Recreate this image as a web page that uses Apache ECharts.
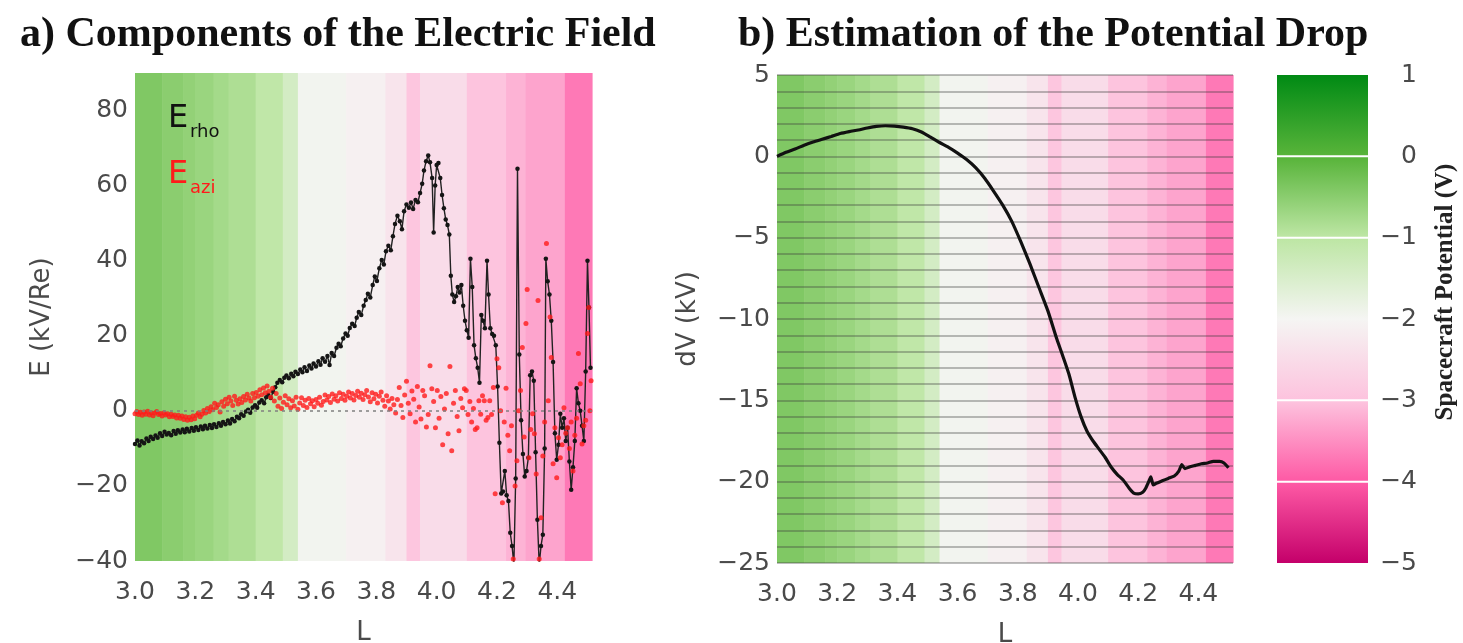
<!DOCTYPE html>
<html>
<head>
<meta charset="utf-8">
<script src="https://cdn.jsdelivr.net/npm/echarts@6/dist/echarts.min.js"></script>
<style>
  html, body { margin: 0; padding: 0; background: #ffffff; }
  #chart { width: 1463px; height: 643px; }
</style>
</head>
<body>
<div id="chart"></div>
<script>
// ---- tick labels ----
const X_TICKS = [3.0, 3.2, 3.4, 3.6, 3.8, 4.0, 4.2, 4.4];
const E_TICKS = [-40, -20, 0, 20, 40, 60, 80];
const DV_TICKS = [-25, -20, -15, -10, -5, 0, 5];
const CBAR_TICKS = [-5, -4, -3, -2, -1, 0, 1];

// ---- colour scale for spacecraft potential (one colour per integer volt, -5 .. 1) ----
const CMAP_COLORS = ['#c4006a', '#fe5aa5', '#fdc3de', '#f5f5f3', '#bde6a4', '#58b43a', '#008a14'];
// colour bar segments [top, bottom] in volts
const CBAR_SEGMENTS = [[1, 0], [0, -1], [-1, -3], [-3, -4], [-4, -5]];

// ---- spacecraft potential along the pass (background bands) ----
const BAND_EDGES = [3.000, 3.090, 3.160, 3.200, 3.260, 3.310, 3.400, 3.490, 3.540, 3.700,
                    3.830, 3.900, 3.945, 4.100, 4.230, 4.295, 4.425, 4.515];
const BAND_POTENTIAL = [-0.40, -0.50, -0.58, -0.65, -0.75, -0.85, -1.05, -1.40, -1.95,
                        -2.10, -2.35, -2.95, -2.50, -2.98, -3.15, -3.30, -3.70];

// ---- radial electric field component [L, kV/Re] ----
const E_RHO = [
  [3.000,-8.8],[3.008,-7.9],[3.015,-9.2],[3.022,-8.1],[3.030,-8.6],[3.038,-7.4],[3.045,-8.0],
  [3.052,-6.9],[3.060,-7.5],[3.068,-6.6],[3.075,-7.2],[3.083,-6.0],[3.090,-6.7],[3.098,-5.6],
  [3.105,-6.3],[3.112,-5.9],[3.120,-6.5],[3.128,-5.4],[3.135,-6.1],[3.142,-5.2],[3.150,-5.8],
  [3.158,-5.0],[3.165,-5.7],[3.172,-4.8],[3.180,-5.5],[3.188,-4.6],[3.195,-5.3],[3.202,-4.4],
  [3.210,-5.1],[3.218,-4.2],[3.225,-4.9],[3.232,-4.0],[3.240,-4.7],[3.248,-3.8],[3.255,-4.6],
  [3.262,-3.6],[3.270,-4.3],[3.278,-3.3],[3.285,-4.0],[3.292,-3.0],[3.300,-3.6],[3.308,-2.6],
  [3.315,-3.4],[3.322,-2.2],[3.330,-2.8],[3.338,-1.6],[3.345,-2.0],[3.352,-0.9],[3.360,-1.3],
  [3.368,-0.2],[3.375,0.3],[3.382,-0.5],[3.390,0.9],[3.398,1.5],[3.405,0.8],[3.412,2.2],
  [3.420,2.8],[3.428,2.0],[3.435,3.6],[3.442,4.2],[3.450,3.4],[3.458,5.1],[3.465,6.3],
  [3.472,7.5],[3.480,8.2],[3.488,7.6],[3.495,8.8],[3.502,9.4],[3.510,8.7],[3.518,9.9],
  [3.525,9.2],[3.532,10.4],[3.540,9.8],[3.548,11.0],[3.555,10.3],[3.562,11.6],[3.570,10.6],
  [3.578,12.1],[3.585,11.3],[3.592,12.6],[3.600,11.8],[3.608,13.2],[3.615,12.3],[3.622,14.0],
  [3.630,13.1],[3.638,14.6],[3.645,12.2],[3.652,15.4],[3.660,14.6],[3.668,16.8],[3.675,17.9],
  [3.682,17.2],[3.690,19.3],[3.698,20.6],[3.705,20.0],[3.712,22.1],[3.720,23.2],[3.728,22.6],
  [3.735,24.8],[3.742,26.3],[3.750,25.5],[3.758,28.0],[3.765,29.5],[3.772,31.2],[3.780,30.2],
  [3.788,33.5],[3.795,35.8],[3.802,34.6],[3.810,38.0],[3.818,40.2],[3.825,39.0],[3.832,42.5],
  [3.840,44.0],[3.848,42.8],[3.855,46.5],[3.862,49.8],[3.870,52.0],[3.878,50.5],[3.885,48.4],
  [3.892,53.2],[3.900,55.0],[3.908,54.1],[3.915,55.5],[3.922,53.8],[3.930,56.2],[3.938,55.6],
  [3.945,58.0],[3.952,60.5],[3.958,64.0],[3.965,66.5],[3.972,68.0],[3.978,66.2],[3.985,62.0],
  [3.990,47.5],[3.995,60.0],[4.000,65.5],[4.006,66.0],[4.012,62.0],[4.018,57.5],[4.024,54.0],
  [4.030,51.0],[4.036,49.5],[4.042,47.0],[4.047,36.0],[4.052,31.0],[4.058,29.0],[4.064,30.5],
  [4.070,33.0],[4.076,31.5],[4.082,33.5],[4.088,28.0],[4.094,24.0],[4.100,21.5],[4.106,19.5],
  [4.112,40.5],[4.118,33.0],[4.124,17.5],[4.130,14.0],[4.136,11.5],[4.142,7.5],[4.148,25.5],
  [4.154,24.0],[4.160,22.0],[4.167,40.0],[4.172,31.0],[4.178,22.0],[4.184,20.5],[4.190,20.0],
  [4.196,17.5],[4.202,6.5],[4.208,-8.5],[4.214,-22.0],[4.220,-21.5],[4.226,-16.0],[4.232,-22.5],
  [4.238,-24.0],[4.244,-32.5],[4.250,-36.0],[4.256,-41.0],[4.262,-18.0],[4.268,64.5],[4.274,15.0],
  [4.280,-2.5],[4.286,-11.5],[4.292,-17.5],[4.298,-16.0],[4.304,-12.5],[4.310,9.5],[4.316,10.5],
  [4.322,8.0],[4.328,-11.0],[4.334,-29.0],[4.340,-41.0],[4.346,-36.0],[4.352,-33.0],[4.358,-10.0],
  [4.362,40.5],[4.368,34.5],[4.374,31.0],[4.380,24.0],[4.386,13.0],[4.392,-6.0],[4.398,-13.0],
  [4.404,-9.0],[4.410,-0.8],[4.416,-4.5],[4.422,-2.0],[4.428,-8.0],[4.434,-4.5],[4.440,-13.5],
  [4.446,-21.0],[4.452,-15.0],[4.458,-8.0],[4.464,6.0],[4.470,2.0],[4.476,0.0],[4.482,-4.0],
  [4.488,-8.0],[4.494,10.5],[4.500,40.0],[4.505,27.5],[4.510,11.5]
];

// ---- azimuthal electric field component [L, kV/Re] ----
const E_AZI = [
  [3.000,-0.8],[3.006,-0.2],[3.012,-1.0],[3.018,-0.4],[3.024,-1.2],[3.030,-0.3],[3.036,-0.9],
  [3.042,-0.1],[3.048,-1.1],[3.054,-0.5],[3.060,-1.3],[3.066,-0.6],[3.072,-0.2],[3.078,-1.0],
  [3.084,-0.7],[3.090,-1.4],[3.096,-0.5],[3.102,-1.1],[3.108,-0.8],[3.114,-1.6],[3.120,-0.9],
  [3.126,-1.5],[3.132,-1.1],[3.138,-1.9],[3.144,-1.2],[3.150,-2.0],[3.156,-1.4],[3.162,-2.3],
  [3.168,-1.6],[3.174,-2.5],[3.180,-1.7],[3.186,-2.4],[3.192,-1.4],[3.198,-2.1],[3.204,-1.2],
  [3.210,-0.6],[3.216,-1.6],[3.222,-0.9],[3.228,0.1],[3.234,-0.6],[3.240,0.6],[3.246,-0.2],
  [3.252,1.1],[3.258,0.3],[3.264,2.0],[3.270,0.9],[3.276,1.6],[3.282,-0.3],[3.288,2.4],
  [3.294,1.2],[3.300,3.1],[3.306,1.9],[3.312,3.6],[3.318,2.6],[3.324,1.4],[3.330,3.9],
  [3.336,2.8],[3.342,1.8],[3.348,3.2],[3.354,2.2],[3.360,3.8],[3.366,2.9],[3.372,4.4],
  [3.378,3.4],[3.384,2.6],[3.390,4.6],[3.396,3.5],[3.402,4.9],[3.408,3.9],[3.414,5.6],
  [3.420,4.3],[3.426,6.1],[3.432,4.8],[3.438,6.6],[3.444,5.2],[3.450,3.6],[3.456,6.0],
  [3.462,2.6],[3.468,4.6],[3.474,1.2],[3.480,3.4],[3.486,0.6],[3.492,2.3],[3.498,4.0],
  [3.504,1.6],[3.510,3.2],[3.516,0.8],[3.522,2.7],[3.528,1.3],[3.534,3.6],[3.540,0.4],
  [3.546,2.1],[3.552,3.5],[3.558,1.4],[3.564,2.8],[3.570,0.9],[3.576,3.3],[3.582,1.9],
  [3.588,2.7],[3.594,1.1],[3.600,3.0],[3.606,2.0],[3.612,3.6],[3.618,1.5],[3.624,2.5],
  [3.630,4.2],[3.636,2.9],[3.642,3.8],[3.648,2.2],[3.654,4.5],[3.660,3.1],[3.666,4.0],
  [3.672,2.6],[3.678,4.8],[3.684,3.3],[3.690,4.4],[3.696,2.8],[3.702,3.9],[3.708,5.0],
  [3.714,3.4],[3.720,4.6],[3.726,2.9],[3.732,4.1],[3.738,5.2],[3.744,3.6],[3.750,4.7],
  [3.756,3.0],[3.762,4.3],[3.768,5.4],[3.774,3.7],[3.780,2.4],[3.786,4.8],[3.792,3.2],
  [3.798,4.4],[3.804,2.1],[3.810,3.9],[3.816,5.0],[3.822,2.8],[3.828,1.2],[3.834,4.0],
  [3.840,2.6],[3.846,0.5],[3.852,3.3],[3.858,1.6],[3.864,-0.6],[3.870,3.0],[3.876,6.2],
  [3.882,1.4],[3.888,-1.8],[3.894,4.2],[3.900,7.9],[3.906,2.0],[3.912,-0.8],[3.918,5.3],
  [3.924,3.1],[3.930,-3.0],[3.936,6.5],[3.942,1.0],[3.948,-2.2],[3.954,5.4],[3.960,4.0],
  [3.966,-4.3],[3.972,-1.0],[3.978,12.0],[3.984,5.9],[3.990,2.5],[3.996,-4.5],[4.002,5.4],
  [4.008,-2.0],[4.014,3.8],[4.020,-9.0],[4.026,0.5],[4.032,4.6],[4.038,-6.1],[4.044,11.8],
  [4.050,-10.6],[4.056,2.0],[4.062,5.4],[4.068,-1.5],[4.074,-5.3],[4.080,3.3],[4.086,0.8],
  [4.092,5.9],[4.098,5.4],[4.104,-1.0],[4.110,2.5],[4.116,-3.0],[4.122,0.6],[4.128,-5.0],
  [4.134,-4.5],[4.140,2.7],[4.146,-0.9],[4.152,4.0],[4.158,2.7],[4.164,-2.5],[4.170,-1.8],
  [4.176,2.7],[4.182,-1.0],[4.188,6.2],[4.194,-22.1],[4.200,13.9],[4.206,11.5],[4.212,0.0],
  [4.218,-24.5],[4.224,-3.0],[4.230,6.0],[4.236,-6.5],[4.242,-10.6],[4.248,-4.0],[4.254,-39.5],
  [4.260,-20.0],[4.266,-13.3],[4.272,0.0],[4.278,5.4],[4.284,16.9],[4.290,-7.0],[4.296,23.3],
  [4.300,32.3],[4.306,-12.5],[4.312,-5.0],[4.318,-0.8],[4.324,-6.1],[4.330,-16.8],[4.336,29.4],
  [4.340,-39.5],[4.346,-28.5],[4.352,-12.0],[4.358,-3.0],[4.364,44.6],[4.370,2.7],[4.376,25.0],
  [4.380,14.2],[4.386,-14.1],[4.392,-4.5],[4.398,-17.8],[4.404,-7.2],[4.410,-12.5],[4.416,-9.0],
  [4.422,0.8],[4.428,-6.0],[4.434,-4.5],[4.440,-10.0],[4.446,-3.0],[4.452,-16.0],[4.458,-6.5],
  [4.464,-2.0],[4.470,15.3],[4.476,7.2],[4.482,-8.8],[4.488,-4.0],[4.494,-2.5],[4.500,20.6],
  [4.504,27.5],[4.508,0.0],[4.512,8.0]
];

// ---- integrated potential drop [L, kV] ----
const DV = [
  [3.000,0.00],[3.030,0.25],[3.060,0.45],[3.090,0.68],[3.120,0.88],[3.150,1.05],[3.180,1.22],
  [3.210,1.40],[3.240,1.52],[3.270,1.62],[3.300,1.74],[3.330,1.84],[3.360,1.88],[3.390,1.86],
  [3.420,1.80],[3.450,1.70],[3.480,1.50],[3.510,1.18],[3.540,0.85],[3.570,0.55],[3.600,0.20],
  [3.630,-0.20],[3.660,-0.70],[3.690,-1.35],[3.720,-2.15],[3.750,-3.00],[3.780,-4.00],
  [3.810,-5.25],[3.840,-6.60],[3.870,-8.05],[3.900,-9.50],[3.930,-11.25],[3.950,-12.30],
  [3.970,-13.40],[3.990,-14.80],[4.010,-16.00],[4.030,-16.90],[4.050,-17.50],[4.070,-18.00],
  [4.090,-18.50],[4.110,-19.10],[4.130,-19.55],[4.150,-19.90],[4.170,-20.40],[4.185,-20.70],
  [4.200,-20.75],[4.215,-20.65],[4.225,-20.40],[4.235,-20.00],[4.242,-19.70],[4.250,-20.20],
  [4.260,-20.10],[4.280,-19.95],[4.300,-19.80],[4.320,-19.65],[4.335,-19.35],[4.345,-18.95],
  [4.355,-19.20],[4.370,-19.10],[4.390,-19.00],[4.410,-18.90],[4.430,-18.85],[4.450,-18.75],
  [4.470,-18.75],[4.485,-18.85],[4.500,-19.15]
];

const L_MIN = 3.0, L_MAX = 4.515;
const SANS = 'DejaVu Sans';
const SERIF = 'Liberation Serif';
const TICK_COLOR = '#4a4a4a';

const bandData = BAND_POTENTIAL.map((p, i) => [BAND_EDGES[i], BAND_EDGES[i + 1], p]);

function fmtMinus(v) {
  return (v < 0 ? '\u2212' : '') + Math.abs(v);
}

function renderBand(params, api) {
  const cs = params.coordSys;
  const x0 = api.coord([api.value(0), 0])[0];
  const x1 = api.coord([api.value(1), 0])[0];
  return {
    type: 'rect',
    shape: { x: x0, y: cs.y, width: x1 - x0 + 0.6, height: cs.height },
    style: { fill: api.visual('color') }
  };
}

function renderColorbar(params, api) {
  const hi = api.value(0), lo = api.value(1);
  const top = api.coord([0, hi]);
  const bot = api.coord([1, lo]);
  const stops = [];
  for (let v = hi; v >= lo; v--) {
    stops.push({ offset: (hi - v) / (hi - lo), color: CMAP_COLORS[v - CBAR_TICKS[0]] });
  }
  const gapT = hi < CBAR_TICKS[CBAR_TICKS.length - 1] ? 1 : 0;
  const gapB = lo > CBAR_TICKS[0] ? 1 : 0;
  return {
    type: 'rect',
    shape: { x: top[0], y: top[1] + gapT, width: bot[0] - top[0], height: bot[1] - top[1] - gapT - gapB },
    style: { fill: new echarts.graphic.LinearGradient(0, 0, 0, 1, stops) }
  };
}

function xAxisFor(gridIndex) {
  return {
    type: 'value', gridIndex, min: L_MIN, max: L_MAX, interval: 0.2,
    name: 'L', nameLocation: 'middle', nameGap: 59,
    nameTextStyle: { fontFamily: SANS, fontSize: 26, color: TICK_COLOR },
    axisLine: { show: false }, axisTick: { show: false }, splitLine: { show: false },
    axisLabel: {
      customValues: X_TICKS, formatter: v => v.toFixed(1), margin: 19,
      fontFamily: SANS, fontSize: 25, color: TICK_COLOR
    }
  };
}

const chart = echarts.init(document.getElementById('chart'), null, { renderer: 'canvas' });

chart.setOption({
  animation: false,
  backgroundColor: '#ffffff',
  grid: [
    { left: 135, top: 73, width: 457, height: 488, containLabel: false, outerBoundsMode: 'none' },
    { left: 777, top: 75, width: 456, height: 488, containLabel: false, outerBoundsMode: 'none' },
    { left: 1277, top: 75, width: 91, height: 488, containLabel: false, outerBoundsMode: 'none' }
  ],
  xAxis: [
    xAxisFor(0),
    xAxisFor(1),
    { type: 'value', gridIndex: 2, min: 0, max: 1, show: false }
  ],
  yAxis: [
    {
      type: 'value', gridIndex: 0, min: -40, max: 90, interval: 20,
      name: 'E (kV/Re)', nameLocation: 'middle', nameGap: 80,
      nameTextStyle: { fontFamily: SANS, fontSize: 26, color: TICK_COLOR },
      axisLine: { show: false }, axisTick: { show: false }, splitLine: { show: false },
      axisLabel: { customValues: E_TICKS, formatter: fmtMinus, margin: 7,
                   fontFamily: SANS, fontSize: 25, color: TICK_COLOR }
    },
    {
      type: 'value', gridIndex: 1, min: -25, max: 5, interval: 5,
      name: 'dV (kV)', nameLocation: 'middle', nameGap: 76,
      nameTextStyle: { fontFamily: SANS, fontSize: 26, color: TICK_COLOR },
      axisLine: { show: false }, axisTick: { show: false }, splitLine: { show: false },
      axisLabel: { customValues: DV_TICKS, formatter: fmtMinus, margin: 7,
                   fontFamily: SANS, fontSize: 25, color: TICK_COLOR }
    },
    {
      // one horizontal rule per kV across panel b
      type: 'value', gridIndex: 1, min: -25, max: 5, interval: 1, z: 5,
      axisLine: { show: false }, axisTick: { show: false }, axisLabel: { show: false },
      splitLine: { show: true, lineStyle: { color: 'rgba(60,60,60,0.45)', width: 1.5 } }
    },
    {
      type: 'value', gridIndex: 2, position: 'right', min: -5, max: 1, interval: 1,
      axisLine: { show: false }, axisTick: { show: false }, splitLine: { show: false },
      axisLabel: { customValues: CBAR_TICKS, formatter: fmtMinus, margin: 49, align: 'right',
                   fontFamily: SANS, fontSize: 25, color: TICK_COLOR }
    }
  ],
  visualMap: {
    type: 'continuous', show: false, min: -5, max: 1, dimension: 2,
    seriesIndex: [0, 3], inRange: { color: CMAP_COLORS }
  },
  series: [
    {
      type: 'custom', xAxisIndex: 0, yAxisIndex: 0, z: 1, silent: true,
      renderItem: renderBand, encode: { x: [0, 1] }, data: bandData
    },
    {
      name: 'Erho', type: 'line', xAxisIndex: 0, yAxisIndex: 0, z: 3,
      data: E_RHO, symbol: 'circle', symbolSize: 4.5, showSymbol: true,
      itemStyle: { color: '#151515' }, lineStyle: { color: '#222', width: 1.4 }
    },
    {
      name: 'Eazi', type: 'scatter', xAxisIndex: 0, yAxisIndex: 0, z: 4,
      data: E_AZI, symbol: 'circle', symbolSize: 5,
      itemStyle: { color: '#ff1a1a' },
      markLine: {
        silent: true, symbol: 'none', label: { show: false },
        lineStyle: { type: [3, 4], color: '#808080', width: 1.5 },
        data: [{ yAxis: 0 }]
      }
    },
    {
      type: 'custom', xAxisIndex: 1, yAxisIndex: 1, z: 1, silent: true,
      renderItem: renderBand, encode: { x: [0, 1] }, data: bandData
    },
    {
      name: 'dV', type: 'line', xAxisIndex: 1, yAxisIndex: 1, z: 10,
      data: DV, symbol: 'none', smooth: 0.2,
      lineStyle: { color: '#111', width: 3.2 }
    },
    {
      type: 'custom', xAxisIndex: 2, yAxisIndex: 3, silent: true,
      renderItem: renderColorbar, data: CBAR_SEGMENTS
    }
  ],
  graphic: [
    { type: 'text', x: 20, y: 35,
      style: { text: 'a) Components of the Electric Field', font: `bold 42px "${SERIF}"`,
               fill: '#111', align: 'left', verticalAlign: 'middle' } },
    { type: 'text', x: 738, y: 35,
      style: { text: 'b) Estimation of the Potential Drop', font: `bold 42px "${SERIF}"`,
               fill: '#111', align: 'left', verticalAlign: 'middle' } },
    { type: 'text', x: 1446, y: 292, rotation: Math.PI / 2,
      style: { text: 'Spacecraft Potential (V)', font: `bold 25px "${SERIF}"`,
               fill: '#222', align: 'center', verticalAlign: 'middle' } },
    { type: 'text', x: 168, y: 119, z: 20,
      style: { text: 'E', font: `32px "${SANS}"`, fill: '#111', align: 'left', verticalAlign: 'middle' } },
    { type: 'text', x: 190, y: 132, z: 20,
      style: { text: 'rho', font: `18px "${SANS}"`, fill: '#111', align: 'left', verticalAlign: 'middle' } },
    { type: 'text', x: 168, y: 175, z: 20,
      style: { text: 'E', font: `32px "${SANS}"`, fill: '#ff1a1a', align: 'left', verticalAlign: 'middle' } },
    { type: 'text', x: 190, y: 188, z: 20,
      style: { text: 'azi', font: `18px "${SANS}"`, fill: '#ff1a1a', align: 'left', verticalAlign: 'middle' } }
  ]
});
</script>
</body>
</html>
